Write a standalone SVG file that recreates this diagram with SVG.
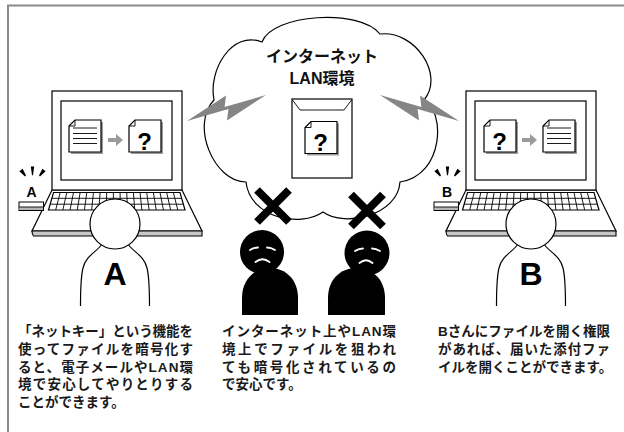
<svg xmlns="http://www.w3.org/2000/svg" xmlns:xlink="http://www.w3.org/1999/xlink" width="624" height="432" viewBox="0 0 624 432">
  <style>
    .ln{fill:none;stroke:#000;stroke-width:1.2}
    .wf{fill:#fff;stroke:#000;stroke-width:1.2}
    .thin{fill:none;stroke:#000;stroke-width:0.9}
    .bolt{fill:#858585}
    .shade{fill:#9a9a9a}
    .arrow{fill:#9a9a9a}
    .blk{fill:#000}
    .face{fill:none;stroke:#fff;stroke-width:1.8;stroke-linecap:round}
    .cross{stroke:#000;stroke-width:8;stroke-linecap:butt}
    .jp{font-family:"Liberation Sans","Noto Sans CJK JP",sans-serif}
    .cap{font-size:13.5px;font-weight:bold;fill:#1a1a1a}
    .title{font-size:16px;font-weight:bold;fill:#111;text-anchor:middle}
    .q{font-family:"Liberation Sans",Arial,sans-serif;font-size:24px;font-weight:bold;text-anchor:middle}
    .big{font-family:"Liberation Sans",Arial,sans-serif;font-size:32px;font-weight:bold;text-anchor:middle}
    .tag{font-family:"Liberation Sans",Arial,sans-serif;font-size:14px;font-weight:bold;text-anchor:middle}
  </style>
  <defs>
    <!-- sheet of paper with a folded corner and a soft drop shadow -->
    <g id="doc">
      <path class="shade" d="M8,2 H34 V34 H2 V8 Z"/>
      <path class="wf" d="M6,0 H32 V32 H0 V6 Z"/>
      <path class="thin" d="M0,6 H6 V0"/>
    </g>
    <g id="doc-text">
      <use xlink:href="#doc"/>
      <path class="thin" d="M4,8 H28 M4,13.5 H28 M4,18.5 H28 M4,23.5 H28"/>
    </g>
    <g id="doc-locked">
      <use xlink:href="#doc"/>
      <text class="q" x="15.5" y="29.5">?</text>
    </g>
    <path id="arrow-r" class="arrow" d="M0,-2 H8 V-6 L15,0 L8,6 V2 H0 Z"/>
    <!-- notebook PC: base, keyboard and screen -->
    <g id="notebook">
      <path class="wf" d="M52,190 H182 L202,231 H32 Z"/>
      <path fill="#c8c8c8" stroke="#000" stroke-width="1.1" d="M32,231 H202 L202,236 H33.5 Q32,234 32,231 Z"/>
      <path class="wf" d="M53.5,192.5 H180 L185,210 H48.5 Z"/>
      <path class="thin" d="M51.84,198.3 H181.66 M50.16,204.2 H183.34
        M60.16,192.5 L55.68,210 M66.82,192.5 L62.87,210 M73.47,192.5 L70.05,210 M80.13,192.5 L77.24,210
        M86.79,192.5 L84.42,210 M93.45,192.5 L91.61,210 M100.11,192.5 L98.79,210 M106.76,192.5 L105.97,210
        M113.42,192.5 L113.16,210 M120.08,192.5 L120.34,210 M126.74,192.5 L127.53,210 M133.39,192.5 L134.71,210
        M140.05,192.5 L141.89,210 M146.71,192.5 L149.08,210 M153.37,192.5 L156.26,210 M160.03,192.5 L163.45,210
        M166.68,192.5 L170.63,210 M173.34,192.5 L177.82,210"/>
      <rect class="wf" x="52" y="91" width="130" height="99"/>
      <rect class="wf" x="61" y="101" width="111" height="79"/>
    </g>
    <!-- key with the signal marks drawn above its letter -->
    <g id="key-stick">
      <path class="blk" d="M19.4,171.2 L22.6,168.8 L26,175.6 L25,176.4 Z"/>
      <path class="blk" d="M30.8,166.5 H34.2 L33,175.2 H32 Z"/>
      <path class="blk" d="M45.6,171.2 L42.4,168.8 L39,175.6 L40,176.4 Z"/>
      <rect x="19" y="202" width="24.5" height="8.5" fill="#fff" stroke="#000" stroke-width="1"/>
      <rect x="19.5" y="207" width="23.5" height="3" fill="#b5b5b5"/>
      <path class="thin" d="M19,207 H43.5"/>
    </g>
    <!-- seated user seen from behind -->
    <g id="user">
      <path fill="#fff" d="M-13.6,245 C-19,252 -29,256 -32,268 C-34.5,278 -34.5,290 -34.5,306 H34.5 C34.5,290 34.5,278 32,268 C29,256 19,252 13.6,245 Z"/>
      <path class="ln" d="M-34.5,306 C-34.5,290 -34.5,278 -32,268 C-29,256 -19,252 -13.6,245 M13.6,245 C19,252 29,256 32,268 C34.5,278 34.5,290 34.5,306"/>
      <circle class="wf" cx="0" cy="224" r="25"/>
    </g>
    <path id="bolt-shape" class="bolt" d="M187,121 L226,95.5 L224.6,107 L266,95 L227,120.5 L228.4,108.9 Z"/>
  </defs>

  <!-- outer frame -->
  <path d="M7,5.5 H624 M8,5 V432" fill="none" stroke="#8a8a8a" stroke-width="2"/>

  <!-- network cloud -->
  <g id="cloud">
    <path class="wf" stroke-width="1" d="M246,182 C214,182 190,125 214,100 C208,70 232,30 262,42 C272,14 360,8 380,34 C415,30 445,75 424,100 C445,110 445,175 400,182 C398,215 345,228 323,212 C300,228 250,218 246,182 Z"/>
    <text class="jp title" x="322" y="62">インターネット</text>
    <text class="jp title" x="322" y="84">LAN環境</text>
  </g>

  <!-- lightning links between the PCs and the network -->
  <g id="connectors">
    <use xlink:href="#bolt-shape"/>
    <use xlink:href="#bolt-shape" transform="translate(646,0) scale(-1,1)"/>
  </g>

  <!-- sealed envelope travelling over the network -->
  <g id="envelope">
    <rect class="wf" x="292" y="99" width="60" height="79"/>
    <path class="thin" d="M292.5,100 L300,110 H344 L351.5,100"/>
    <use xlink:href="#doc-locked" x="305" y="121.5"/>
  </g>

  <!-- blocked access marks -->
  <g id="block-1">
    <path class="cross" d="M257,190 L289,222 M289,190 L257,222"/>
  </g>
  <g id="block-2">
    <path class="cross" d="M351,194.5 L383,226.5 M383,194.5 L351,226.5"/>
  </g>

  <!-- sender A -->
  <g id="pc-a">
    <use xlink:href="#notebook"/>
    <use xlink:href="#doc-text" x="69" y="120"/>
    <use xlink:href="#arrow-r" x="108" y="140"/>
    <use xlink:href="#doc-locked" x="129" y="120"/>
    <use xlink:href="#key-stick"/>
    <text class="tag" x="31.5" y="196.5">A</text>
  </g>
  <g id="user-a">
    <use xlink:href="#user" x="115"/>
    <text class="big" x="115" y="285">A</text>
  </g>

  <!-- receiver B -->
  <g id="pc-b">
    <use xlink:href="#notebook" x="414"/>
    <use xlink:href="#doc-locked" x="484" y="120"/>
    <use xlink:href="#arrow-r" x="522" y="140"/>
    <use xlink:href="#doc-text" x="543" y="120"/>
    <use xlink:href="#key-stick" x="415"/>
    <text class="tag" x="447" y="196.5">B</text>
  </g>
  <g id="user-b">
    <use xlink:href="#user" x="531"/>
    <text class="big" x="531" y="285">B</text>
  </g>

  <!-- eavesdroppers -->
  <g id="intruder-1">
    <path class="blk" d="M242,315 V298 C242,280 254,268 270,268 C286,268 298,280 298,298 V315 Z"/>
    <circle class="blk" cx="262" cy="252" r="22"/>
    <path class="face" d="M250,250 Q254,247.5 258,247.5 M267,247.5 Q271,247.5 275,250 M255.5,262 Q262.5,256.5 269.5,262"/>
  </g>
  <g id="intruder-2">
    <path class="blk" d="M328,315 V298 C328,280 340,268 356.5,268 C373,268 385,280 385,298 V315 Z"/>
    <circle class="blk" cx="367" cy="253" r="22.5"/>
    <path class="face" d="M355,251 Q359,248.5 363,248.5 M372,248.5 Q376,248.5 380,251 M359.5,263 Q366,257.5 372.5,263"/>
  </g>

  <!-- captions -->
  <g id="captions" class="jp cap">
    <text x="18" y="336" textLength="175" lengthAdjust="spacing">「ネットキー」という機能を</text>
    <text x="18" y="353.8" textLength="175" lengthAdjust="spacing">使ってファイルを暗号化す</text>
    <text x="18" y="371.6" textLength="175" lengthAdjust="spacing">ると、電子メールやLAN環</text>
    <text x="18" y="389.4" textLength="175" lengthAdjust="spacing">境で安心してやりとりする</text>
    <text x="18" y="407.2">ことができます。</text>

    <text x="222" y="336" textLength="174" lengthAdjust="spacing">インターネット上やLAN環</text>
    <text x="222" y="353.8" textLength="174" lengthAdjust="spacing">境上でファイルを狙われ</text>
    <text x="222" y="371.6" textLength="174" lengthAdjust="spacing">ても暗号化されているの</text>
    <text x="222" y="389.4">で安心です。</text>

    <text x="438" y="336" textLength="172" lengthAdjust="spacing">Bさんにファイルを開く権限</text>
    <text x="438" y="353.8" textLength="172" lengthAdjust="spacing">があれば、届いた添付ファ</text>
    <text x="438" y="371.6">イルを開くことができます。</text>
  </g>
</svg>
